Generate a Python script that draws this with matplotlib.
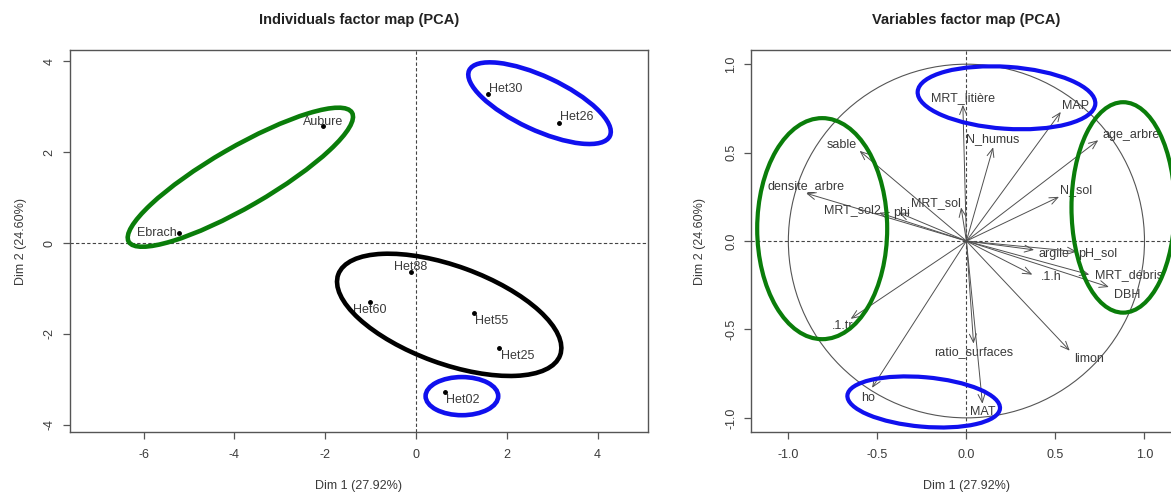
import matplotlib
matplotlib.use("Agg")
import matplotlib.pyplot as plt
from matplotlib.patches import Ellipse, Circle

plt.rcParams['font.family'] = ['Liberation Sans', 'DejaVu Sans']
plt.rcParams['axes.unicode_minus'] = False

# individuals (Dim 1, Dim 2)
ind_names = ['Ebrach', 'Aubure', 'Het30', 'Het26', 'Het88', 'Het60', 'Het55', 'Het25', 'Het02']
ind_x = [-5.23, -2.05, 1.58, 3.15, -0.12, -1.01, 1.27, 1.83, 0.63]
ind_y = [0.22, 2.58, 3.28, 2.65, -0.64, -1.29, -1.53, -2.31, -3.27]

# variables (correlations with Dim 1, Dim 2)
var_names = ['MRT_litière', 'MAP', 'N_humus', 'age_arbre', 'N_sol', 'sable', 'densite_arbre',
             'MRT_sol2', 'phi', 'MRT_sol', 'argile', 'pH_sol', '.1.h', 'MRT_débris', 'DBH',
             '.1.tr', 'ho', 'ratio_surfaces', 'MAT', 'limon']
var_x = [-0.02, 0.53, 0.15, 0.74, 0.52, -0.60, -0.90, -0.49, -0.38, -0.03, 0.38, 0.62,
         0.37, 0.69, 0.80, -0.65, -0.53, 0.04, 0.09, 0.58]
var_y = [0.77, 0.73, 0.53, 0.57, 0.25, 0.51, 0.27, 0.16, 0.16, 0.19, -0.05, -0.06,
         -0.19, -0.19, -0.26, -0.44, -0.83, -0.58, -0.92, -0.62]

# label placement (ha, dx pt, dy pt)
ind_lab = [('right', -1, 0), ('center', 0, 3), ('left', 1, 4), ('left', 1, 4), ('center', 0, 4),
           ('center', 0, -6), ('left', 1, -6), ('left', 1, -6), ('left', 1, -6)]
var_lab = [('center', 0, 5), ('left', 1, 4), ('center', 0, 6), ('left', 3, 4), ('left', 1, 5),
           ('right', -2, 4), ('center', 0, 5), ('right', 1, 2), ('center', 2, 0), ('right', 0, 3),
           ('left', 3, -3), ('left', 1, -2), ('left', 6, -2), ('left', 4, 0), ('left', 4, -6),
           ('right', 2, -5), ('right', 2, -7), ('center', 0, -6), ('center', 0, -6), ('center', 14, -6)]

# highlight ellipses (center x, center y, width, height, angle, colour)
ind_ell = [(-3.87, 1.45, 5.68, 1.32, 30, '#0a7d0a'),
           (2.72, 3.08, 3.42, 1.18, -25, '#1010ee'),
           (0.73, -1.58, 5.2, 2.15, -20, 'black'),
           (1.01, -3.37, 1.6, 0.84, 0, '#1010ee')]
var_ell = [(-0.81, 0.07, 0.73, 1.25, 0, '#0a7d0a'),
           (0.88, 0.19, 0.58, 1.19, 0, '#0a7d0a'),
           (0.225, 0.81, 1.0, 0.35, -4, '#1010ee'),
           (-0.24, -0.91, 0.86, 0.28, -5, '#1010ee')]

txt = '#3a3a3a'
fig = plt.figure(figsize=(11.71, 4.93), dpi=100)
ax1 = fig.add_axes([0.0595, 0.1237, 0.4939, 0.7748])
ax2 = fig.add_axes([0.6413, 0.1237, 0.368, 0.7748])


def style(ax, xl, yl, title, ylx):
    ax.set_xlim(*xl)
    ax.set_ylim(*yl)
    for s in ax.spines.values():
        s.set_color('#555555')
        s.set_linewidth(1.0)
    ax.tick_params(colors='#555555', labelcolor=txt, labelsize=9, length=5, width=0.9)
    ax.tick_params(axis='x', pad=7)
    ax.tick_params(axis='y', pad=5)
    ax.axhline(0, color='#444444', lw=0.8, ls=(0, (3, 2)), zorder=1)
    ax.axvline(0, color='#444444', lw=0.8, ls=(0, (3, 2)), zorder=1)
    ax.set_xlabel('Dim 1 (27.92%)', fontsize=9, color=txt)
    ax.set_ylabel('Dim 2 (24.60%)', fontsize=9, color=txt)
    ax.xaxis.set_label_coords(0.5, -0.126)
    ax.yaxis.set_label_coords(ylx, 0.5)
    ax.text(0.5, 1.0785, title, transform=ax.transAxes, ha='center', va='center',
            fontsize=10.5, fontweight='bold', color='#222222')


# individuals
style(ax1, (-7.63, 5.11), (-4.16, 4.25), 'Individuals factor map (PCA)', -0.074)
ax1.set_xticks([-6, -4, -2, 0, 2, 4])
ax1.set_yticks([-4, -2, 0, 2, 4])
for t in ax1.get_yticklabels():
    t.set_rotation(90)
    t.set_va('center')
ax1.plot(ind_x, ind_y, 'o', color='black', ms=2.5, zorder=3)
for n, x, y, (ha, dx, dy) in zip(ind_names, ind_x, ind_y, ind_lab):
    ax1.annotate(n, (x, y), xytext=(dx, dy), textcoords='offset points', ha=ha, va='center',
                 fontsize=9, color=txt)
for cx, cy, w, h, a, c in ind_ell:
    ax1.add_patch(Ellipse((cx, cy), w, h, angle=a, fill=False, ec=c, lw=3.3, zorder=4))

# variables
style(ax2, (-1.21, 1.21), (-1.08, 1.08), 'Variables factor map (PCA)', -0.104)
ax2.set_xticks([-1.0, -0.5, 0.0, 0.5, 1.0])
ax2.set_yticks([-1.0, -0.5, 0.0, 0.5, 1.0])
ax2.set_xticklabels(['-1.0', '-0.5', '0.0', '0.5', '1.0'])
ax2.set_yticklabels(['-1.0', '-0.5', '0.0', '0.5', '1.0'])
for t in ax2.get_yticklabels():
    t.set_rotation(90)
    t.set_va('center')
ax2.add_patch(Circle((0, 0), 1, fill=False, ec='#555555', lw=0.8))
for n, x, y, (ha, dx, dy) in zip(var_names, var_x, var_y, var_lab):
    ax2.annotate('', xy=(x, y), xytext=(0, 0),
                 arrowprops=dict(arrowstyle='->,head_length=0.6,head_width=0.25',
                                 color='#505050', lw=0.7, shrinkA=0, shrinkB=0))
    ax2.annotate(n, (x, y), xytext=(dx, dy), textcoords='offset points', ha=ha, va='center',
                 fontsize=9, color=txt)
for cx, cy, w, h, a, c in var_ell:
    ax2.add_patch(Ellipse((cx, cy), w, h, angle=a, fill=False, ec=c, lw=3.0, zorder=4))

fig.savefig('out.png', dpi=100)
